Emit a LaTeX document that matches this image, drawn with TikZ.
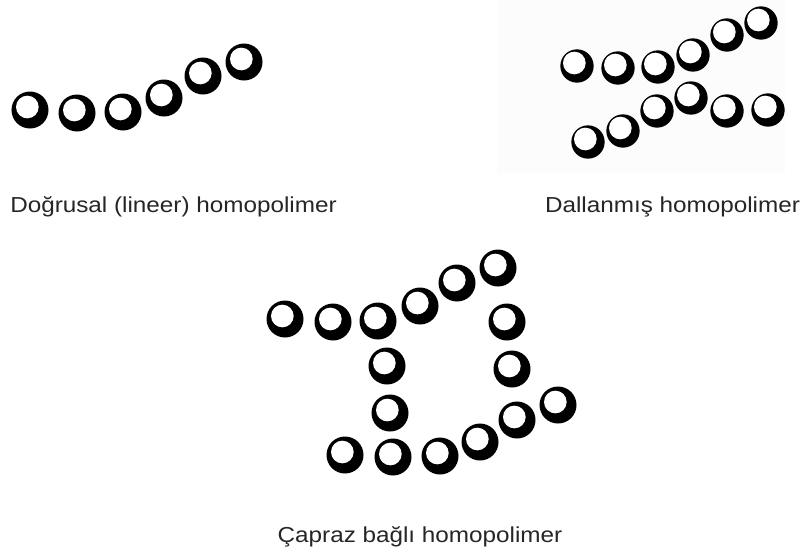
\documentclass[tikz,border=0pt]{standalone}
\usepackage{fontspec}
\usepackage{graphicx}
\setmainfont{Liberation Sans}
\usetikzlibrary{positioning}

\newcommand{\widetext}[1]{\scalebox{1.12}[1]{#1}}

\begin{document}
\begin{tikzpicture}[
        % 1 unit = 1 pixel of the reference, y pointing down
        x=0.03cm, y=-0.03cm,
        every node/.style={font=\fontsize{18.5pt}{20pt}\selectfont, text=black!85},
        bead/.style={circle, fill=black, inner sep=0pt, minimum size=1.11cm,
                     path picture={\fill[white] ([shift={(-0.08cm,0.09cm)}]path picture bounding box.center) circle (0.34cm);}},
        smallbead/.style={bead, minimum size=1.0cm},
        caption/.style={anchor=base, inner sep=0pt}
    ]
    \useasboundingbox (0,0) rectangle (811,556);

    % --- faint backdrop of the branched picture ---
    \fill[black!1] (497,0) rectangle (785,173);

    % --- Linear chain ---
    \node[bead] (lin1) at (30,110) {};
    \node[bead] (lin2) at (77,113) {};
    \node[bead] (lin3) at (123,112) {};
    \node[bead] (lin4) at (164,98) {};
    \node[bead] (lin5) at (203,76) {};
    \node[bead] (lin6) at (244,62) {};
    \node[caption] (linlabel) at (173.5,212) {\widetext{Doğrusal (lineer) homopolimer}};

    % --- Branched chain ---
    \node[smallbead] (brt1) at (577,66) {};
    \node[smallbead] (brt2) at (618,68) {};
    \node[smallbead] (brt3) at (658,67) {};
    \node[smallbead] (brt4) at (693,55) {};
    \node[smallbead] (brt5) at (727,35) {};
    \node[smallbead] (brt6) at (761,23) {};
    \node[smallbead] (brb1) at (588,142) {};
    \node[smallbead] (brb2) at (623,131) {};
    \node[smallbead] (brb3) at (657,111) {};
    \node[smallbead] (brb4) at (691,98) {};
    \node[smallbead] (brb5) at (727,111) {};
    \node[smallbead] (brb6) at (768,110) {};
    \node[caption] (brlabel) at (672.5,212) {\widetext{Dallanmış homopolimer}};

    % --- Cross-linked chains ---
    \node[bead] (crt1) at (285,319) {};
    \node[bead] (crt2) at (333,322) {};
    \node[bead] (crt3) at (378,321) {};
    \node[bead] (crt4) at (420,306) {};
    \node[bead] (crt5) at (457,283) {};
    \node[bead] (crt6) at (498,268) {};
    \node[bead] (crr1) at (507,322) {};
    \node[bead] (crr2) at (512,369) {};
    \node[bead] (crl1) at (387,366) {};
    \node[bead] (crl2) at (390,413) {};
    \node[bead] (crb1) at (345,455) {};
    \node[bead] (crb2) at (393,457) {};
    \node[bead] (crb3) at (440,456) {};
    \node[bead] (crb4) at (480,442) {};
    \node[bead] (crb5) at (517,420) {};
    \node[bead] (crb6) at (558,405) {};
    \node[caption] (crlabel) at (420,542) {\widetext{Çapraz bağlı homopolimer}};

\end{tikzpicture}
\end{document}
